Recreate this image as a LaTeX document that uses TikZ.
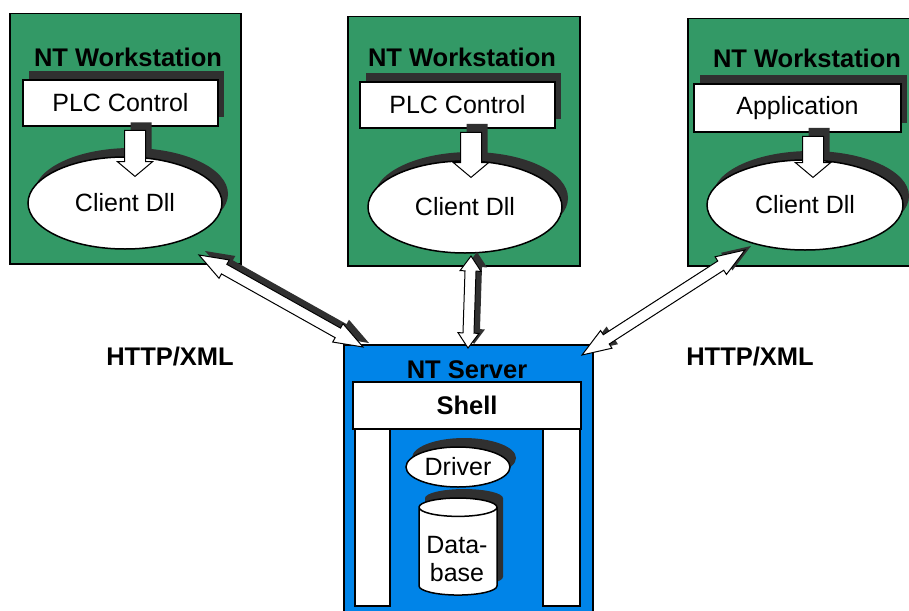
\documentclass[tikz,border=0pt]{standalone}
\usepackage{fontspec}
\setmainfont{Liberation Sans}
\usetikzlibrary{calc,shapes.geometric,shapes.arrows,shadows}

\definecolor{wsgreen}{RGB}{51,153,102}
\definecolor{srvblue}{RGB}{0,132,232}
\definecolor{shadowgray}{RGB}{48,48,48}

\tikzset{
  box/.style={draw=black, line width=1.5pt},
  wstitle/.style={font=\fontsize{25.5}{28}\selectfont\bfseries},
  txt/.style={font=\fontsize{25}{28}\selectfont},
  dropped/.style={drop shadow={shadow xshift=6pt, shadow yshift=9pt, fill=shadowgray, opacity=1}},
  module/.style={box, fill=white, inner sep=0pt, minimum width=195pt, minimum height=46pt, txt},
  client/.style={box, fill=white, ellipse, inner sep=0pt, minimum width=194pt, minimum height=92pt, txt},
  push/.style={single arrow, draw=black, line width=1pt, fill=white, inner sep=0pt, inner ysep=10pt,
    single arrow head extend=7pt, single arrow tip angle=100},
  link/.style={double arrow, draw=black, line width=1pt, fill=white, inner sep=0pt, inner ysep=5pt,
    double arrow head extend=5pt, double arrow tip angle=40}
}

% double block arrow with its shadow, from #2 to #3
\newcommand{\httplink}[3][]{%
  \path let \p1=($(#3)-(#2)$), \n1={atan2(\y1,\x1)}, \n2={veclen(\x1,\y1)} in
    ($(#2)!0.5!(#3)+(6,-4)$) node[link, #1, fill=shadowgray, draw=none, rotate=\n1, minimum height=\n2] {}
    ($(#2)!0.5!(#3)$) node[link, #1, rotate=\n1, minimum height=\n2] {};}

\begin{document}
\begin{tikzpicture}[x=1pt, y=-1pt]
\clip (0,0) rectangle (909,610);

% left workstation
\begin{scope}[shift={(9,13)}]
\node[box, fill=wsgreen, anchor=north west, minimum width=231pt, minimum height=250pt] (ws1) at (0,0) {};
\node[wstitle] (t1) at (119,44) {NT Workstation};
\node[module, dropped] (ctrl1) at (111.5,90) {PLC Control};
\node[push, fill=shadowgray, draw=none, rotate=-90, minimum height=46pt] (p1s) at (132,128) {};
\node[client, dropped] (dll1) at (116,190) {Client Dll};
\node[push, rotate=-90, minimum height=46pt] (p1) at (126,136) {};
\end{scope}

% middle workstation
\begin{scope}[shift={(347,16)}]
\node[box, fill=wsgreen, anchor=north west, minimum width=232pt, minimum height=249pt] (ws2) at (0,0) {};
\node[wstitle] (t2) at (115,41) {NT Workstation};
\node[module, dropped] (ctrl2) at (110.5,89) {PLC Control};
\node[push, fill=shadowgray, draw=none, rotate=-90, minimum height=45pt] (p2s) at (130,126) {};
\node[client, dropped] (dll2) at (118,191) {Client Dll};
\node[push, rotate=-90, minimum height=45pt] (p2) at (124,134.5) {};
\end{scope}

% right workstation
\begin{scope}[shift={(687,18)}]
\node[box, fill=wsgreen, anchor=north west, minimum width=240pt, minimum height=247pt] (ws3) at (0,0) {};
\node[wstitle] (t3) at (120,40) {NT Workstation};
\node[module, dropped, minimum width=207pt, minimum height=48pt] (ctrl3) at (110.5,90) {Application};
\node[push, fill=shadowgray, draw=none, rotate=-90, minimum height=41pt] (p3s) at (132,126) {};
\node[client, dropped, minimum width=196pt, minimum height=90pt] (dll3) at (118,187) {Client Dll};
\node[push, rotate=-90, minimum height=41pt] (p3) at (126,134.5) {};
\end{scope}

% server
\node[box, fill=srvblue, anchor=north west, minimum width=249pt, minimum height=280pt] (srv) at (343,344) {};
\node[wstitle] (t4) at (467,370) {NT Server};
\draw[box, fill=white] (355,429) rectangle (390,606);
\draw[box, fill=white] (543,429) rectangle (580,606);
\node[box, fill=white, inner sep=0pt, minimum width=228pt, minimum height=47pt, wstitle] (shell) at (467,405.5) {Shell};
\node[box, fill=white, ellipse, inner sep=0pt, minimum width=104pt, minimum height=40pt, dropped, txt] (drv) at (458,467) {Driver};
\node[box, fill=white, cylinder, shape border rotate=90, aspect=0.3, inner sep=0pt, minimum width=78pt,
  minimum height=97pt, dropped, txt, align=center] (db) at (458,551.5) {\phantom{Data-}\\\phantom{base}};
\node[txt, align=center] (dbname) at (457,559) {Data-\\base};

\node[wstitle] (h1) at (170,357) {HTTP/XML};
\node[wstitle] (h2) at (750,357) {HTTP/XML};

% links
\coordinate (w1end) at (199,255);
\coordinate (s1end) at (363,347);
\coordinate (w2end) at (471,256);
\coordinate (s2end) at (468,348);
\coordinate (w3end) at (745,250);
\coordinate (s3end) at (582,355);
\httplink{w1end}{s1end}
\httplink[double arrow tip angle=70]{w2end}{s2end}
\httplink{w3end}{s3end}

\end{tikzpicture}
\end{document}
